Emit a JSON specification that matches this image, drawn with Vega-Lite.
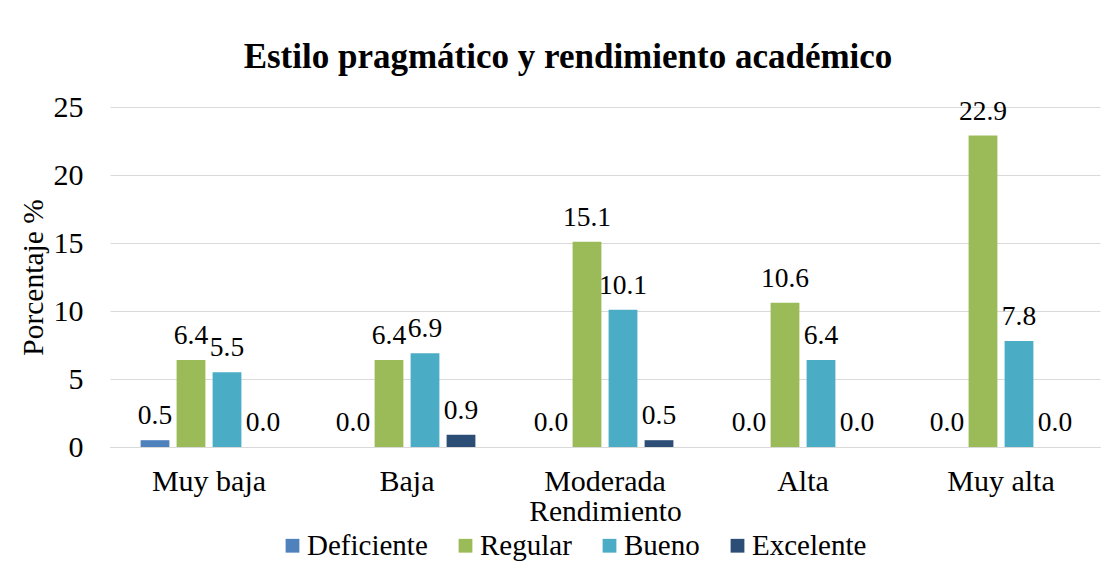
{
  "$schema": "https://vega.github.io/schema/vega-lite/v6.json",
  "width": 990,
  "height": 340,
  "autosize": {"type": "none"},
  "padding": {"left": 110, "top": 107, "right": 12, "bottom": 120},
  "background": "white",
  "config": {
    "font": "Liberation Serif",
    "view": {"stroke": null}
  },
  "title": {
    "text": "Estilo pragmático y rendimiento académico",
    "fontSize": 35,
    "fontWeight": "bold",
    "font": "Liberation Serif",
    "color": "#000000",
    "anchor": "middle",
    "dx": -37,
    "offset": 17
  },
  "data": {
    "values": [
      {"rendimiento": "Muy baja", "nivel": "Deficiente", "porcentaje": 0.5},
      {"rendimiento": "Muy baja", "nivel": "Regular", "porcentaje": 6.4},
      {"rendimiento": "Muy baja", "nivel": "Bueno", "porcentaje": 5.5},
      {"rendimiento": "Muy baja", "nivel": "Excelente", "porcentaje": 0.0},
      {"rendimiento": "Baja", "nivel": "Deficiente", "porcentaje": 0.0},
      {"rendimiento": "Baja", "nivel": "Regular", "porcentaje": 6.4},
      {"rendimiento": "Baja", "nivel": "Bueno", "porcentaje": 6.9},
      {"rendimiento": "Baja", "nivel": "Excelente", "porcentaje": 0.9},
      {"rendimiento": "Moderada", "nivel": "Deficiente", "porcentaje": 0.0},
      {"rendimiento": "Moderada", "nivel": "Regular", "porcentaje": 15.1},
      {"rendimiento": "Moderada", "nivel": "Bueno", "porcentaje": 10.1},
      {"rendimiento": "Moderada", "nivel": "Excelente", "porcentaje": 0.5},
      {"rendimiento": "Alta", "nivel": "Deficiente", "porcentaje": 0.0},
      {"rendimiento": "Alta", "nivel": "Regular", "porcentaje": 10.6},
      {"rendimiento": "Alta", "nivel": "Bueno", "porcentaje": 6.4},
      {"rendimiento": "Alta", "nivel": "Excelente", "porcentaje": 0.0},
      {"rendimiento": "Muy alta", "nivel": "Deficiente", "porcentaje": 0.0},
      {"rendimiento": "Muy alta", "nivel": "Regular", "porcentaje": 22.9},
      {"rendimiento": "Muy alta", "nivel": "Bueno", "porcentaje": 7.8},
      {"rendimiento": "Muy alta", "nivel": "Excelente", "porcentaje": 0.0}
    ]
  },
  "encoding": {
    "x": {
      "field": "rendimiento",
      "type": "nominal",
      "sort": ["Muy baja", "Baja", "Moderada", "Alta", "Muy alta"],
      "scale": {"paddingInner": 0, "paddingOuter": 0},
      "axis": {
        "title": "Rendimiento",
        "labelAngle": 0,
        "labelFont": "Liberation Serif",
        "titleFont": "Liberation Serif",
        "labelFontSize": 30,
        "titleFontSize": 29.5,
        "titleFontWeight": "normal",
        "labelColor": "#000000",
        "titleColor": "#000000",
        "domainColor": "#d9d9d9",
        "domainWidth": 1,
        "ticks": false,
        "labelPadding": 19,
        "titlePadding": 1
      }
    },
    "xOffset": {
      "field": "nivel",
      "type": "nominal",
      "sort": ["Deficiente", "Regular", "Bueno", "Excelente"],
      "scale": {"paddingInner": 0.2, "paddingOuter": 0.85}
    },
    "y": {
      "field": "porcentaje",
      "type": "quantitative",
      "scale": {"domain": [0, 25]},
      "axis": {
        "title": "Porcentaje %",
        "values": [0, 5, 10, 15, 20, 25],
        "gridColor": "#d9d9d9",
        "gridWidth": 1,
        "domain": false,
        "ticks": false,
        "labelPadding": 27,
        "labelFont": "Liberation Serif",
        "titleFont": "Liberation Serif",
        "labelFontSize": 30,
        "labelColor": "#000000",
        "titleFontSize": 29.5,
        "titleFontWeight": "normal",
        "titleColor": "#000000",
        "titlePadding": 5
      }
    }
  },
  "layer": [
    {
      "mark": {"type": "bar"},
      "encoding": {
        "color": {
          "field": "nivel",
          "type": "nominal",
          "sort": ["Deficiente", "Regular", "Bueno", "Excelente"],
          "scale": {
            "domain": ["Deficiente", "Regular", "Bueno", "Excelente"],
            "range": ["#4F81BD", "#9BBB59", "#4BACC6", "#2C4D75"]
          },
          "legend": {
            "title": null,
            "orient": "none",
            "direction": "horizontal",
            "legendX": 168,
            "legendY": 424,
            "symbolType": "square",
            "symbolSize": 190,
            "symbolStrokeWidth": 0,
            "labelFont": "Liberation Serif",
            "labelFontSize": 29,
            "labelColor": "#000000",
            "labelOffset": 0,
            "columnPadding": 23
          }
        }
      }
    },
    {
      "mark": {"type": "text", "baseline": "alphabetic", "dy": -16, "fontSize": 27.5, "color": "#000000", "font": "Liberation Serif"},
      "encoding": {"text": {"field": "porcentaje", "type": "quantitative", "format": ".1f"}}
    }
  ]
}
